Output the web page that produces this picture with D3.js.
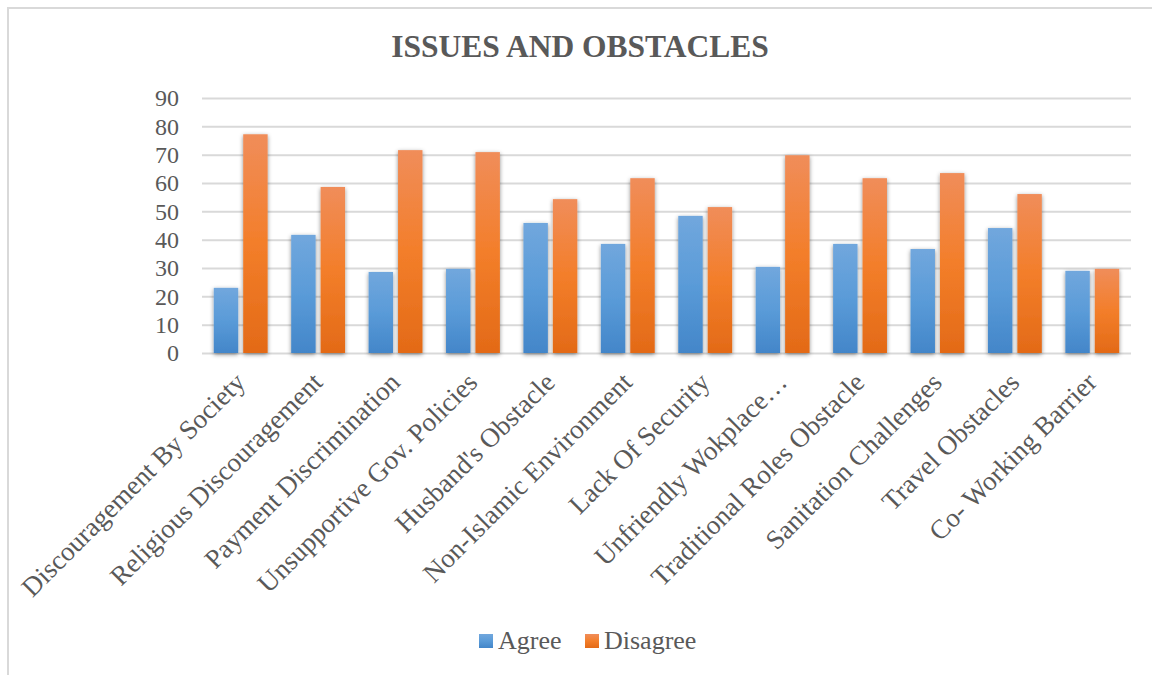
<!DOCTYPE html>
<html>
<head>
<meta charset="utf-8">
<script src="https://cdn.jsdelivr.net/npm/d3@7"></script>
<style>
  body { margin: 0; background: #fff; }
  svg { display: block; }
</style>
</head>
<body>
<div id="chart"></div>
<script>
// datos
const categories = [
  "Discouragement By Society", "Religious Discouragement", "Payment Discrimination",
  "Unsupportive Gov. Policies", "Husband's Obstacle", "Non-Islamic Environment",
  "Lack Of Security", "Unfriendly Wokplace\u2026", "Traditional Roles Obstacle",
  "Sanitation Challenges", "Travel Obstacles", "Co- Working Barrier"
];
const agree    = [23.0, 41.7, 28.6, 29.7, 45.9, 38.5, 48.4, 30.4, 38.5, 36.7, 44.1, 29.0];
const disagree = [77.2, 58.6, 71.6, 70.9, 54.3, 61.7, 51.5, 69.8, 61.7, 63.5, 56.1, 29.7];
const seriesNames = ["Agree", "Disagree"];
const yTicks = [0, 10, 20, 30, 40, 50, 60, 70, 80, 90];

const width = 1152, height = 675;
const margin = {left: 202, right: 21, top: 98, bottom: 322};
const textColor = "#595959";
const serif = "'Liberation Serif', 'Times New Roman', serif";

const svg = d3.select("#chart").append("svg")
  .attr("width", width).attr("height", height);

const defs = svg.append("defs");
// degradados de las barras
const gradBlue = defs.append("linearGradient").attr("id", "gBlue")
  .attr("x1", 0).attr("y1", 0).attr("x2", 0).attr("y2", 1);
gradBlue.append("stop").attr("offset", "0%").attr("stop-color", "#71a7dd");
gradBlue.append("stop").attr("offset", "50%").attr("stop-color", "#5a9bd8");
gradBlue.append("stop").attr("offset", "100%").attr("stop-color", "#4386c9");
const gradOrange = defs.append("linearGradient").attr("id", "gOrange")
  .attr("x1", 0).attr("y1", 0).attr("x2", 0).attr("y2", 1);
gradOrange.append("stop").attr("offset", "0%").attr("stop-color", "#f08d5a");
gradOrange.append("stop").attr("offset", "50%").attr("stop-color", "#f37e2a");
gradOrange.append("stop").attr("offset", "100%").attr("stop-color", "#e36a17");

const shadow = defs.append("filter").attr("id", "shadow")
  .attr("x", "-30%").attr("y", "-10%").attr("width", "160%").attr("height", "120%");
shadow.append("feDropShadow").attr("dx", 0).attr("dy", 1.5)
  .attr("stdDeviation", 2.2).attr("flood-color", "#000").attr("flood-opacity", 0.45);

// marco
svg.append("rect")
  .attr("x", 8).attr("y", 8).attr("width", 1160).attr("height", 680)
  .attr("fill", "none").attr("stroke", "#d9d9d9").attr("stroke-width", 2);

// título
svg.append("text")
  .attr("x", 580).attr("y", 57)
  .attr("text-anchor", "middle")
  .style("font-family", serif)
  .attr("font-size", 31.5).attr("font-weight", "bold")
  .attr("fill", textColor)
  .text("ISSUES AND OBSTACLES");

const x0 = d3.scaleBand()
  .domain(categories)
  .range([margin.left, width - margin.right]);

const x1 = d3.scaleBand()
  .domain(seriesNames)
  .range([0, x0.bandwidth()])
  .paddingInner(0.17)
  .paddingOuter(0.4);

const y = d3.scaleLinear()
  .domain([0, 90])
  .range([height - margin.bottom, margin.top]);

// eje y con líneas de cuadrícula
const yAxis = svg.append("g")
  .attr("transform", `translate(${margin.left},0)`)
  .call(d3.axisLeft(y).tickValues(yTicks).tickSize(-(width - margin.left - margin.right)).tickPadding(23));
yAxis.attr("font-family", serif).attr("font-size", 24);
yAxis.select(".domain").remove();
yAxis.selectAll(".tick line").attr("stroke", "#d9d9d9").attr("stroke-width", 2);
yAxis.selectAll(".tick text")
  .style("font-family", serif)
  .attr("fill", textColor).attr("font-size", 24);

// barras
const groups = svg.append("g").selectAll("g")
  .data(categories)
  .enter().append("g")
  .attr("transform", d => `translate(${x0(d)},0)`);

groups.selectAll("rect")
  .data((d, i) => [
    {key: "Agree", value: agree[i]},
    {key: "Disagree", value: disagree[i]}
  ])
  .enter().append("rect")
  .attr("x", d => x1(d.key))
  .attr("y", d => y(d.value))
  .attr("width", x1.bandwidth())
  .attr("height", d => y(0) - y(d.value))
  .attr("fill", d => d.key === "Agree" ? "url(#gBlue)" : "url(#gOrange)")
  .attr("filter", "url(#shadow)");

// etiquetas del eje x
svg.append("g").selectAll("text")
  .data(categories)
  .enter().append("text")
  .attr("transform", d => `translate(${x0(d) + x0.bandwidth() / 2 + 6},384) rotate(-45)`)
  .attr("text-anchor", "end")
  .style("font-family", serif)
  .attr("font-size", 27)
  .attr("fill", textColor)
  .text(d => d);

// leyenda
const legend = svg.append("g");
const legendItems = [
  {name: "Agree", fill: "url(#gBlue)", x: 479},
  {name: "Disagree", fill: "url(#gOrange)", x: 585}
];
legendItems.forEach(function(it) {
  legend.append("rect")
    .attr("x", it.x).attr("y", 634)
    .attr("width", 14).attr("height", 14)
    .attr("fill", it.fill);
  legend.append("text")
    .attr("x", it.x + 19).attr("y", 649)
    .style("font-family", serif)
    .attr("font-size", 26)
    .attr("fill", textColor)
    .text(it.name);
});
</script>
</body>
</html>
